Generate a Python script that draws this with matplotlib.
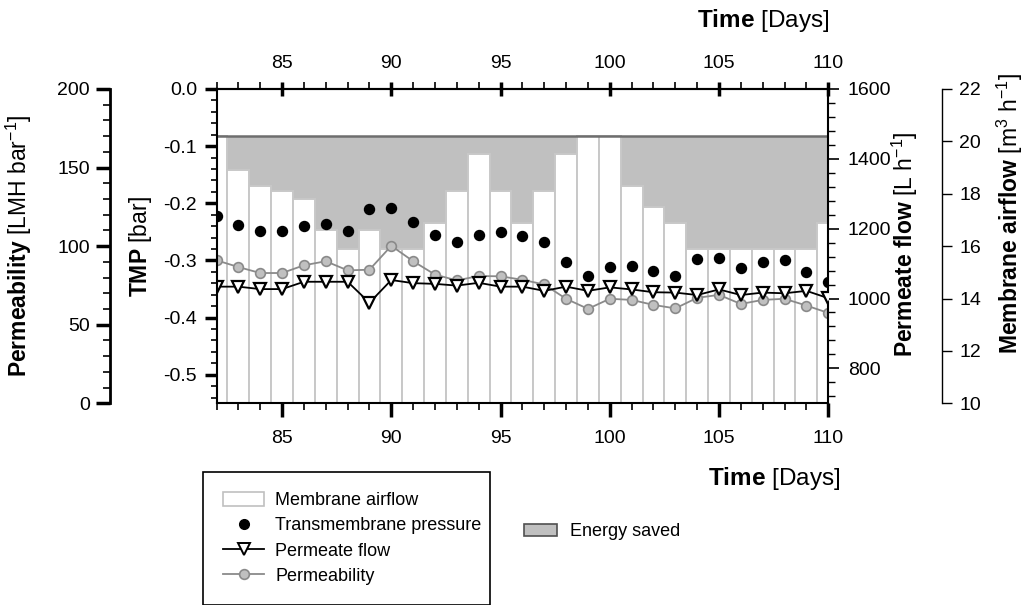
import matplotlib
matplotlib.use("Agg")
import matplotlib.pyplot as plt
from matplotlib.ticker import MultipleLocator, FormatStrFormatter
from matplotlib.patches import Patch
from matplotlib.lines import Line2D

plt.rcParams['font.family'] = ['Liberation Sans', 'DejaVu Sans']
plt.rcParams['mathtext.fontset'] = 'custom'
plt.rcParams['mathtext.rm'] = 'Liberation Sans'
plt.rcParams['mathtext.bf'] = 'Liberation Sans:bold'
plt.rcParams['mathtext.it'] = 'Liberation Sans:italic'
plt.rcParams['axes.unicode_minus'] = False

# ---------------- data ----------------
days = [82, 83, 84, 85, 86, 87, 88, 89, 90, 91, 92, 93, 94, 95, 96,
        97, 98, 99, 100, 101, 102, 103, 104, 105, 106, 107, 108, 109, 110]
airflow = [20.2, 18.9, 18.3, 18.1, 17.8, 16.6, 15.9, 16.6, 15.9, 15.9, 16.9, 18.1, 19.5, 18.1, 16.9,
           18.1, 19.5, 20.2, 20.2, 18.3, 17.5, 16.9, 15.9, 15.9, 15.9, 15.9, 15.9, 15.9, 16.9]
tmp = [-0.223, -0.238, -0.249, -0.249, -0.240, -0.237, -0.248, -0.210, -0.209, -0.232, -0.255, -0.268,
       -0.255, -0.251, -0.258, -0.267, -0.302, -0.328, -0.312, -0.309, -0.318, -0.328, -0.297, -0.296,
       -0.313, -0.302, -0.300, -0.321, -0.338]
permeate_flow = [1034, 1034, 1027, 1027, 1048, 1048, 1048, 988, 1053, 1044, 1042, 1037, 1045, 1034, 1034,
                 1022, 1034, 1022, 1032, 1026, 1018, 1017, 1010, 1026, 1010, 1017, 1015, 1022, 1001]
permeability = [91.0, 86.7, 82.9, 82.9, 87.8, 90.4, 84.6, 85.0, 100.2, 90.4, 81.9, 78.2, 81.0, 80.8, 78.6,
                75.6, 66.5, 60.1, 66.5, 65.8, 62.6, 60.4, 67.1, 69.0, 63.2, 65.8, 66.5, 62.2, 57.5]
airflow_max = max(airflow)

DPI = 100
fig = plt.figure(figsize=(10.33, 6.05), dpi=DPI)
ax = fig.add_axes([0.2096, 0.3334, 0.5922, 0.5195])

ax_air = ax.twinx()
ax_perm = ax.twinx()
ax_flow = ax.twinx()
ax_air.set_zorder(1)
ax_perm.set_zorder(2)
ax_flow.set_zorder(3)
ax.set_zorder(4)
ax.patch.set_visible(False)

TICK_FS = 14
LAB_FS = 16.5


def center_label(axis_obj, x, y):
    axis_obj.set_label_coords(x, y)
    axis_obj.label.set_verticalalignment('center')
    axis_obj.label.set_horizontalalignment('center')


# ---- energy saved + membrane airflow bars ----
ax_air.fill_between(days, airflow, airflow_max, step='mid', facecolor='#c0c0c0',
                    edgecolor='none', zorder=1)
ax_air.bar(days, airflow, width=1.0, color='white', edgecolor='#c8c8c8', linewidth=1.4, zorder=2)
ax_air.axhline(airflow_max, color='#6e6e6e', lw=1.8, zorder=3)
ax_air.set_ylim(10, 22)
ax_air.yaxis.set_major_locator(MultipleLocator(2))
ax_air.yaxis.set_minor_locator(plt.NullLocator())
for s in ['top', 'bottom', 'left']:
    ax_air.spines[s].set_visible(False)
ax_air.spines['right'].set_position(('outward', 113.4 * 72 / DPI))
ax_air.spines['right'].set_linewidth(1.0)
ax_air.tick_params(axis='y', which='major', direction='out', length=7, width=1, labelsize=TICK_FS, pad=5.5)
ax_air.set_ylabel(r'$\mathbf{Membrane\ airflow}$ [m$^{3}$ h$^{-1}$]', fontsize=LAB_FS)
center_label(ax_air.yaxis, 1.2966, 0.605)

# ---- permeability ----
ax_perm.plot(days, permeability, color='#8a8a8a', lw=1.3, marker='o', ms=7,
             mfc='#c0c0c0', mec='#8a8a8a', mew=1.2, zorder=3)
ax_perm.set_ylim(0, 200)
ax_perm.yaxis.set_major_locator(MultipleLocator(50))
ax_perm.yaxis.set_minor_locator(MultipleLocator(10))
ax_perm.yaxis.set_ticks_position('left')
ax_perm.yaxis.set_label_position('left')
for s in ['top', 'bottom', 'right']:
    ax_perm.spines[s].set_visible(False)
ax_perm.spines['left'].set_position(('outward', 106.5 * 72 / DPI))
ax_perm.spines['left'].set_linewidth(2.0)
ax_perm.tick_params(axis='y', which='major', direction='out', length=10, width=2.5, labelsize=TICK_FS, pad=4.5)
ax_perm.tick_params(axis='y', which='minor', direction='out', length=5, width=1.2)
ax_perm.set_ylabel(r'$\mathbf{Permeability}$ [LMH bar$^{-1}$]', fontsize=LAB_FS)
center_label(ax_perm.yaxis, -0.3227, 0.5)

# ---- permeate flow ----
ax_flow.plot(days, permeate_flow, color='black', lw=1.3, marker='v', ms=8.5,
             mfc='white', mec='black', mew=1.6, zorder=3)
ax_flow.set_ylim(700, 1600)
ax_flow.yaxis.set_major_locator(MultipleLocator(200))
ax_flow.yaxis.set_minor_locator(MultipleLocator(40))
for s in ['top', 'bottom', 'left']:
    ax_flow.spines[s].set_visible(False)
ax_flow.spines['right'].set_linewidth(1.5)
ax_flow.tick_params(axis='y', which='major', direction='out', length=8, width=1.2, labelsize=TICK_FS, pad=6)
ax_flow.tick_params(axis='y', which='minor', direction='out', length=5, width=1)
ax_flow.set_ylabel(r'$\mathbf{Permeate\ flow}$ [L h$^{-1}$]', fontsize=LAB_FS)
center_label(ax_flow.yaxis, 1.125, 0.505)

# ---- TMP (main axes) ----
ax.plot(days, tmp, linestyle='none', marker='o', ms=7.2, color='black', zorder=5)
ax.set_xlim(82, 110)
ax.set_ylim(-0.55, 0)
ax.yaxis.set_major_locator(MultipleLocator(0.1))
ax.yaxis.set_minor_locator(MultipleLocator(0.02))
ax.yaxis.set_major_formatter(FormatStrFormatter('%.1f'))
ax.xaxis.set_major_locator(MultipleLocator(5))
ax.xaxis.set_minor_locator(MultipleLocator(1))
ax.spines['right'].set_visible(False)
for s in ['left', 'bottom', 'top']:
    ax.spines[s].set_linewidth(1.5)
ax.tick_params(axis='y', which='major', direction='out', length=9, width=2.5, labelsize=TICK_FS, pad=5)
ax.tick_params(axis='y', which='minor', direction='out', length=4.5, width=1.2)
ax.tick_params(axis='x', which='major', direction='out', length=10, width=2.5, labelsize=TICK_FS, pad=9)
ax.tick_params(axis='x', which='minor', direction='out', length=5, width=1.2)
ax.set_ylabel(r'$\mathbf{TMP}$ [bar]', fontsize=LAB_FS)
center_label(ax.yaxis, -0.125, 0.5)

top = ax.secondary_xaxis('top')
top.xaxis.set_major_locator(MultipleLocator(5))
top.xaxis.set_minor_locator(MultipleLocator(1))
top.spines['top'].set_linewidth(1.5)
top.tick_params(axis='x', which='major', direction='inout', length=10, width=2.5, labelsize=TICK_FS, pad=7.5)
top.tick_params(axis='x', which='minor', direction='out', length=5, width=1.2)

fig.text(763 / 1033, 1 - 20 / 605, r'$\mathbf{Time}$ [Days]', fontsize=17.5, ha='center', va='center')
fig.text(774 / 1033, 1 - 478 / 605, r'$\mathbf{Time}$ [Days]', fontsize=17.5, ha='center', va='center')

# ---- legends ----
handles = [
    Patch(facecolor='white', edgecolor='#c0c0c0', linewidth=1.2),
    Line2D([], [], linestyle='none', marker='o', ms=7, color='black'),
    Line2D([], [], color='black', lw=1.3, marker='v', ms=8, mfc='white', mec='black', mew=1.4),
    Line2D([], [], color='#8a8a8a', lw=1.3, marker='o', ms=7, mfc='#c0c0c0', mec='#8a8a8a', mew=1.2),
]
labels = ['Membrane airflow', 'Transmembrane pressure', 'Permeate flow', 'Permeability']
leg = fig.legend(handles, labels, loc='upper left',
                 bbox_to_anchor=(203 / 1033, 1 - 602 / 605, 287 / 1033, 130 / 605),
                 mode='expand', fontsize=13, frameon=True, fancybox=False, framealpha=1,
                 edgecolor='black', handlelength=2.3, handleheight=0.8, handletextpad=0.6,
                 labelspacing=0.45, borderpad=1.1, borderaxespad=0)
leg.get_frame().set_linewidth(1.2)
leg.get_frame().set_facecolor('white')

leg2 = fig.legend([Patch(facecolor='#c0c0c0', edgecolor='#505050', linewidth=1.2)], ['Energy saved'],
                  loc='center left', bbox_to_anchor=(523.5 / 1033, 1 - 532 / 605), fontsize=13,
                  frameon=False, handlelength=1.85, handleheight=0.6, handletextpad=0.75,
                  borderpad=0, borderaxespad=0)

fig.savefig('out.png', dpi=DPI, facecolor='white')
